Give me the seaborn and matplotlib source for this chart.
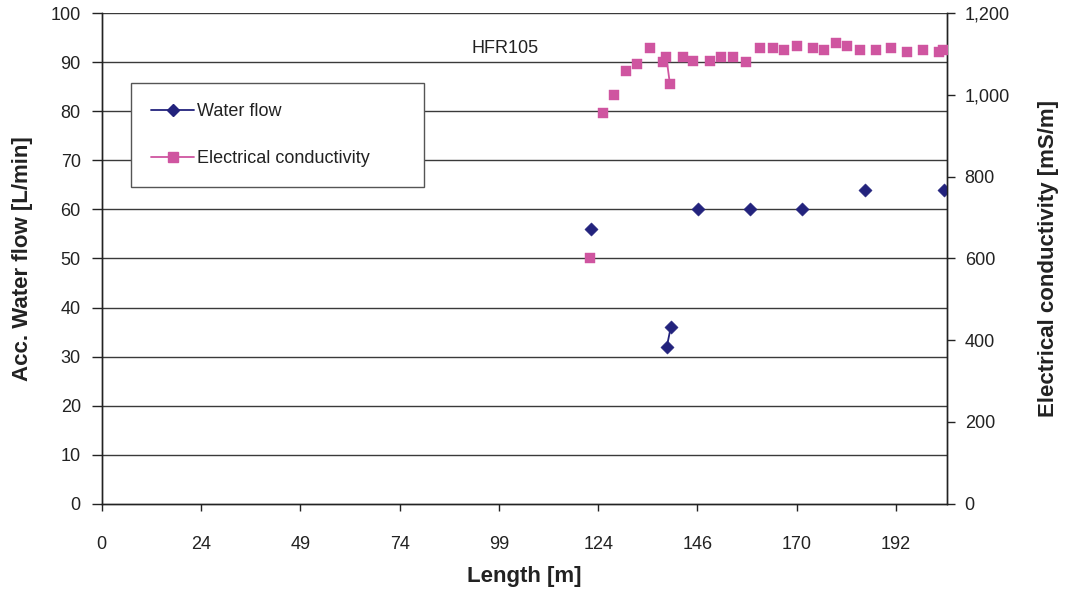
import numpy as np
import matplotlib
matplotlib.use("Agg")
import matplotlib.pyplot as plt
from matplotlib.lines import Line2D
import seaborn as sns

# tick labels on the length axis (evenly spaced on the chart)
length_ticks = [0, 24, 49, 74, 99, 124, 146, 170, 192]

# water flow series
flow_len = [122.1, 139.2, 140.1, 146.2, 158.8, 171.1, 185.1, 202.7]
flow_val = [56, 32, 36, 60, 60, 60, 64, 64]
flow_run = [0, 1, 1, 2, 3, 4, 5, 6]   # same id = joined by a line

# electrical conductivity series
ec_len = [122.0, 125.0, 127.4, 130.2, 132.7, 135.5, 138.3, 139.1, 139.9, 142.7,
          145.1, 149.0, 151.6, 154.6, 157.7, 161.2, 164.3, 166.9, 170.0, 173.7,
          176.0, 178.8, 181.2, 184.1, 187.6, 190.9, 194.5, 198.0, 201.6, 202.5]
ec_val = [600, 956, 1000, 1058, 1075, 1115, 1080, 1093, 1027, 1093,
          1084, 1084, 1093, 1093, 1080, 1115, 1115, 1110, 1119, 1115,
          1110, 1128, 1119, 1110, 1110, 1115, 1106, 1110, 1106, 1110]
ec_run = [0, 1, 2, 3, 4, 5, 6, 7, 7, 9,
          10, 11, 12, 13, 14, 15, 16, 17, 18, 19,
          20, 21, 22, 23, 24, 25, 26, 27, 28, 29]

flow_color = "#23237d"
ec_color = "#cf55a0"

sns.set_theme(style="white")
plt.rcParams['font.family'] = ['Liberation Sans', 'DejaVu Sans']

# piecewise scale so the odd tick labels sit evenly spaced
knots_m = np.array(length_ticks + [214], dtype=float)
knots_u = np.arange(len(knots_m), dtype=float)


def fwd(x):
    return np.interp(x, knots_m, knots_u)


def inv(u):
    return np.interp(u, knots_u, knots_m)


fig = plt.figure(figsize=(10.65, 5.99), dpi=100)
ax = fig.add_axes([0.0955, 0.1591, 0.7934, 0.8187])
ax.set_xscale('function', functions=(fwd, inv))
ax2 = ax.twinx()

# left axis: water flow
sns.lineplot(x=flow_len, y=flow_val, units=flow_run, estimator=None,
             color=flow_color, lw=1.3, ax=ax, legend=False)
sns.scatterplot(x=flow_len, y=flow_val, marker='D', s=46, color=flow_color,
                edgecolor=flow_color, linewidth=0.3, ax=ax, legend=False, zorder=3)

# right axis: conductivity
sns.lineplot(x=ec_len, y=ec_val, units=ec_run, estimator=None,
             color=ec_color, lw=1.3, ax=ax2, legend=False)
sns.scatterplot(x=ec_len, y=ec_val, marker='s', s=62, color=ec_color,
                edgecolor=ec_color, linewidth=0.3, ax=ax2, legend=False, zorder=3)

ax.set_xlim(0, inv(8.51))
ax.set_ylim(0, 100)
ax2.set_ylim(0, 1200)
ax.set_xticks(length_ticks)
ax.set_xticklabels([str(t) for t in length_ticks])
ax.set_yticks(range(0, 101, 10))
ax2.set_yticks(range(0, 1201, 200))
ax2.set_yticklabels([f"{v:,}" for v in range(0, 1201, 200)])
ax.minorticks_off()

ax.grid(False)
ax2.grid(False)
for v in range(10, 101, 10):
    ax.axhline(v, color='#3a3a3a', lw=1.0, zorder=0)

for a in (ax, ax2):
    a.spines['top'].set_visible(False)
    for s in ('left', 'right', 'bottom'):
        a.spines[s].set_color('#222222')
        a.spines[s].set_linewidth(1.0)
    a.set_facecolor('none')

ax.tick_params(axis='y', direction='out', length=7, width=1, pad=8,
               labelsize=13, colors='#222222', left=True)
ax.tick_params(axis='x', direction='out', length=5, width=1, pad=18,
               labelsize=13, colors='#222222', bottom=True)
ax2.tick_params(axis='y', direction='out', length=6, width=1, pad=7,
                labelsize=13, colors='#222222', right=True)

ax.set_xlabel('Length [m]', fontsize=16, fontweight='bold', color='#222222')
ax.set_ylabel('Acc. Water flow [L/min]', fontsize=16, fontweight='bold', color='#222222')
ax2.set_ylabel('Electrical conductivity [mS/m]', fontsize=16, fontweight='bold',
               color='#222222')
ax.xaxis.set_label_coords(0.5, -0.128)
ax.yaxis.set_label_coords(-0.081, 0.5)
ax2.yaxis.set_label_coords(1.108, 0.5)

ax.text(0.477, 0.929, 'HFR105', transform=ax.transAxes, ha='center', va='center',
        fontsize=13, color='#222222')

handles = [
    Line2D([], [], color=flow_color, lw=1.3, marker='D', markersize=6.6,
           markerfacecolor=flow_color, markeredgecolor=flow_color),
    Line2D([], [], color=ec_color, lw=1.3, marker='s', markersize=7.8,
           markerfacecolor=ec_color, markeredgecolor=ec_color),
]
leg = ax2.legend(handles, ['Water flow', 'Electrical conductivity'],
                 loc='upper left', bbox_to_anchor=(0.0347, 0.658, 0.347, 0.199),
                 mode='expand', borderaxespad=0, fontsize=13, frameon=True,
                 fancybox=False, framealpha=1, edgecolor='#555555',
                 handlelength=2.4, handletextpad=0.15, labelspacing=1.66,
                 borderpad=1.1, labelcolor='#222222')
leg.get_frame().set_linewidth(1.0)

fig.savefig('out.png', dpi=100)
